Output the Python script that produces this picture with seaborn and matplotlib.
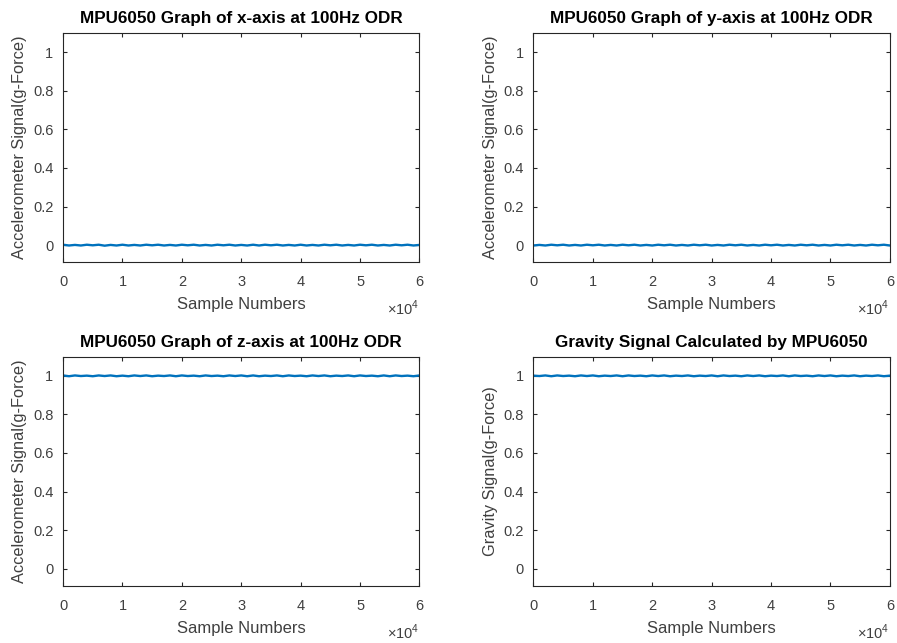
import numpy as np
import pandas as pd
import matplotlib
matplotlib.use('Agg')
import matplotlib.pyplot as plt
import seaborn as sns

# sample positions (every 1000 samples over the 60000-sample record)
samples = list(range(0, 60001, 1000))

# accelerometer readings in g
accel_x = [0.002, -0.002, 0.001, -0.002, 0.002, -0.001, 0.002, -0.003, 0.001, -0.002,
           0.002, -0.002, 0.001, -0.002, 0.002, -0.001, 0.002, -0.002, 0.001, -0.002,
           0.002, -0.001, 0.002, -0.002, 0.001, -0.002, 0.002, -0.001, 0.002, -0.002,
           0.001, -0.002, 0.002, -0.002, 0.002, -0.001, 0.002, -0.002, 0.001, -0.002,
           0.002, -0.002, 0.001, -0.002, 0.002, -0.001, 0.002, -0.002, 0.001, -0.002,
           0.002, -0.001, 0.002, -0.002, 0.001, -0.002, 0.002, -0.001, 0.002, -0.002, 0.001]
accel_y = [-0.002, 0.001, -0.002, 0.002, -0.001, 0.002, -0.002, 0.001, -0.002, 0.002,
           -0.001, 0.002, -0.002, 0.001, -0.002, 0.002, -0.001, 0.002, -0.002, 0.001,
           -0.002, 0.002, -0.001, 0.002, -0.002, 0.001, -0.002, 0.002, -0.001, 0.002,
           -0.002, 0.001, -0.002, 0.002, -0.001, 0.002, -0.002, 0.001, -0.002, 0.002,
           -0.001, 0.002, -0.002, 0.001, -0.002, 0.002, -0.001, 0.002, -0.002, 0.001,
           -0.002, 0.002, -0.001, 0.002, -0.002, 0.001, -0.002, 0.002, -0.001, 0.002, -0.002]
accel_z = [1.002, 0.998, 1.002, 0.999, 1.001, 0.998, 1.002, 0.999, 1.002, 0.998,
           1.001, 0.998, 1.002, 0.999, 1.002, 0.998, 1.001, 0.999, 1.002, 0.998,
           1.002, 0.999, 1.001, 0.998, 1.002, 0.999, 1.001, 0.998, 1.002, 0.999,
           1.002, 0.998, 1.002, 0.998, 1.001, 0.999, 1.002, 0.998, 1.002, 0.999,
           1.001, 0.998, 1.002, 0.999, 1.002, 0.998, 1.001, 0.999, 1.002, 0.998,
           1.002, 0.999, 1.001, 0.998, 1.002, 0.998, 1.002, 0.999, 1.001, 0.998, 1.002]
gravity = [1.001, 0.999, 1.002, 0.998, 1.002, 0.999, 1.001, 0.998, 1.002, 0.999,
           1.002, 0.998, 1.001, 0.999, 1.002, 0.998, 1.002, 0.999, 1.001, 0.998,
           1.002, 0.999, 1.002, 0.998, 1.001, 0.999, 1.002, 0.998, 1.001, 0.999,
           1.002, 0.998, 1.002, 0.999, 1.001, 0.998, 1.002, 0.999, 1.002, 0.998,
           1.001, 0.999, 1.002, 0.998, 1.002, 0.999, 1.001, 0.998, 1.002, 0.999,
           1.002, 0.998, 1.001, 0.999, 1.002, 0.998, 1.001, 0.999, 1.002, 0.998, 1.001]

titles = ['MPU6050 Graph of x-axis at 100Hz ODR',
          'MPU6050 Graph of y-axis at 100Hz ODR',
          'MPU6050 Graph of z-axis at 100Hz ODR',
          'Gravity Signal Calculated by MPU6050']
ylabels = ['Accelerometer Signal(g-Force)', 'Accelerometer Signal(g-Force)',
           'Accelerometer Signal(g-Force)', 'Gravity Signal(g-Force)']
series = [accel_x, accel_y, accel_z, gravity]

sns.set_style('ticks')
plt.rcParams['font.family'] = ['Liberation Sans', 'DejaVu Sans']
plt.rcParams['mathtext.fontset'] = 'custom'
plt.rcParams['mathtext.rm'] = 'Liberation Sans'

grey = '#262626'
lab = '#404040'
fig, axes = plt.subplots(2, 2, figsize=(8.97, 6.43), dpi=100)
plt.subplots_adjust(left=0.0703, right=0.992, top=0.9487, bottom=0.0886,
                    wspace=0.32, hspace=0.41)

for ax, t, yl, vals in zip(axes.flat, titles, ylabels, series):
    df = pd.DataFrame({'Sample': samples, 'Signal': vals})
    sns.lineplot(data=df, x='Sample', y='Signal', ax=ax, color='#0072BD', linewidth=1.7)
    ax.set_xlim(0, 60000)
    ax.set_ylim(-0.09, 1.1)
    ax.set_yticks([0, 0.2, 0.4, 0.6, 0.8, 1])
    ax.set_yticklabels(['0', '0.2', '0.4', '0.6', '0.8', '1'])
    ax.set_xticks(range(0, 60001, 10000))
    ax.set_xticklabels([str(i) for i in range(7)])
    ax.text(1.0, -0.2, r'$\times10^{4}$', transform=ax.transAxes, ha='right',
            va='center', fontsize=10.5, color=lab)
    ax.set_title(t, fontsize=12.3, fontweight='bold', color='black', pad=7)
    ax.set_xlabel('Sample Numbers', fontsize=12, color=lab, labelpad=6)
    ax.set_ylabel(yl, fontsize=11.8, color=lab, labelpad=4)
    ax.tick_params(direction='in', top=True, right=True, length=3, width=0.8,
                   labelsize=10.5, labelcolor=lab, colors=grey)
    ax.tick_params(axis='x', pad=9)
    ax.tick_params(axis='y', pad=7)
    for s in ax.spines.values():
        s.set_visible(True)
        s.set_color(grey)
        s.set_linewidth(0.8)

plt.savefig('out.png', dpi=100)
